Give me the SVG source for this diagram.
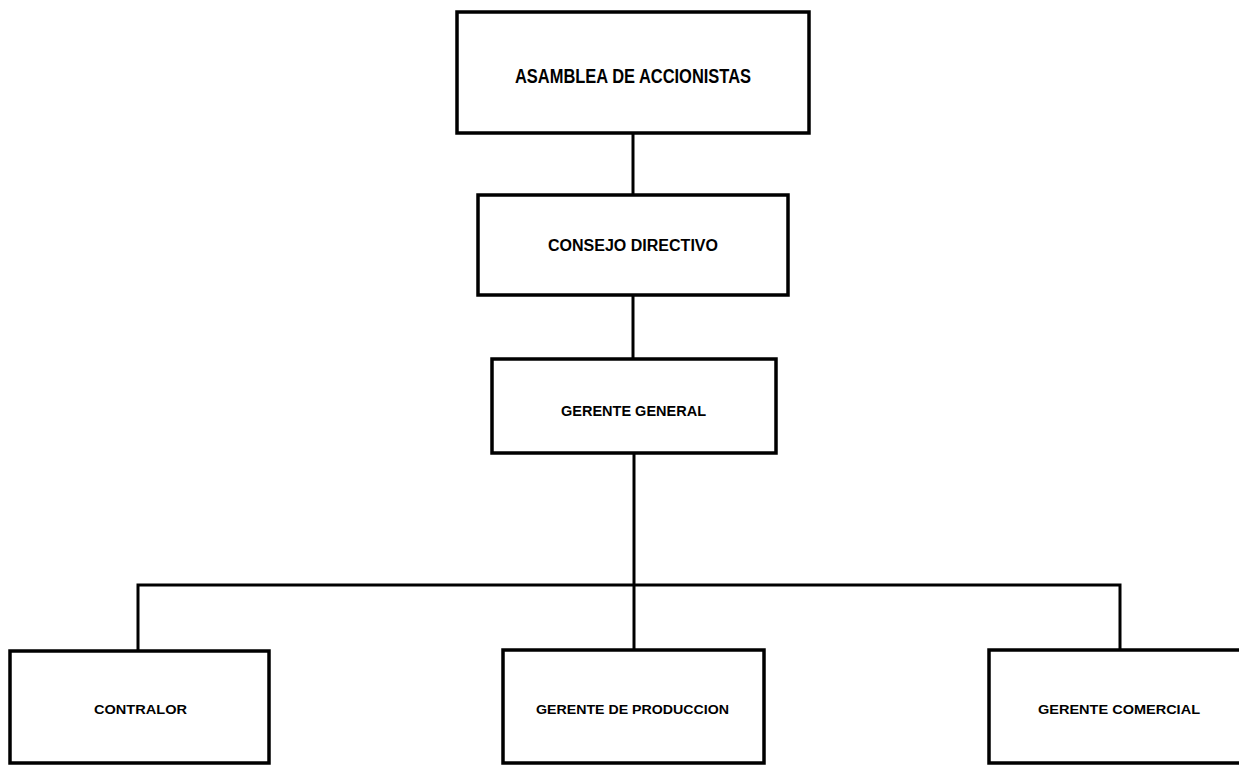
<svg xmlns="http://www.w3.org/2000/svg" width="1239" height="765" viewBox="0 0 1239 765">
  <style>
    .box { fill: #ffffff; stroke: #000000; stroke-width: 3.5; }
    .wire { fill: none; stroke: #000000; stroke-width: 3; }
    .label { font-family: "Liberation Sans", Arial, sans-serif; font-weight: bold; fill: #000000; text-anchor: start; }
  </style>
  <rect width="1239" height="765" fill="#ffffff"/>

  <!-- reporting lines -->
  <g id="connectors">
    <line class="wire" x1="633" y1="133" x2="633" y2="195"/>
    <line class="wire" x1="633" y1="295" x2="633" y2="359"/>
    <line class="wire" x1="634" y1="453" x2="634" y2="650"/>
    <polyline class="wire" points="138,651 138,585 1120,585 1120,650"/>
  </g>

  <g id="asamblea">
    <rect class="box" x="457" y="12" width="352" height="121"/>
    <text class="label" x="515" y="83" font-size="21" textLength="236" lengthAdjust="spacingAndGlyphs">ASAMBLEA DE ACCIONISTAS</text>
  </g>

  <g id="consejo">
    <rect class="box" x="478" y="195" width="310" height="100"/>
    <text class="label" x="548" y="251" font-size="16" textLength="170" lengthAdjust="spacingAndGlyphs">CONSEJO DIRECTIVO</text>
  </g>

  <g id="gerente-general">
    <rect class="box" x="492" y="359" width="284" height="94"/>
    <text class="label" x="561" y="416" font-size="14" textLength="145" lengthAdjust="spacingAndGlyphs">GERENTE GENERAL</text>
  </g>

  <g id="contralor">
    <rect class="box" x="10" y="651" width="259" height="112"/>
    <text class="label" x="94" y="714" font-size="12" textLength="93" lengthAdjust="spacingAndGlyphs">CONTRALOR</text>
  </g>

  <g id="gerente-produccion">
    <rect class="box" x="503" y="650" width="261" height="113"/>
    <text class="label" x="536" y="714" font-size="12" textLength="193" lengthAdjust="spacingAndGlyphs">GERENTE DE PRODUCCION</text>
  </g>

  <g id="gerente-comercial">
    <rect class="box" x="989" y="650" width="262" height="113"/>
    <text class="label" x="1038" y="714" font-size="12" textLength="162" lengthAdjust="spacingAndGlyphs">GERENTE COMERCIAL</text>
  </g>
</svg>
